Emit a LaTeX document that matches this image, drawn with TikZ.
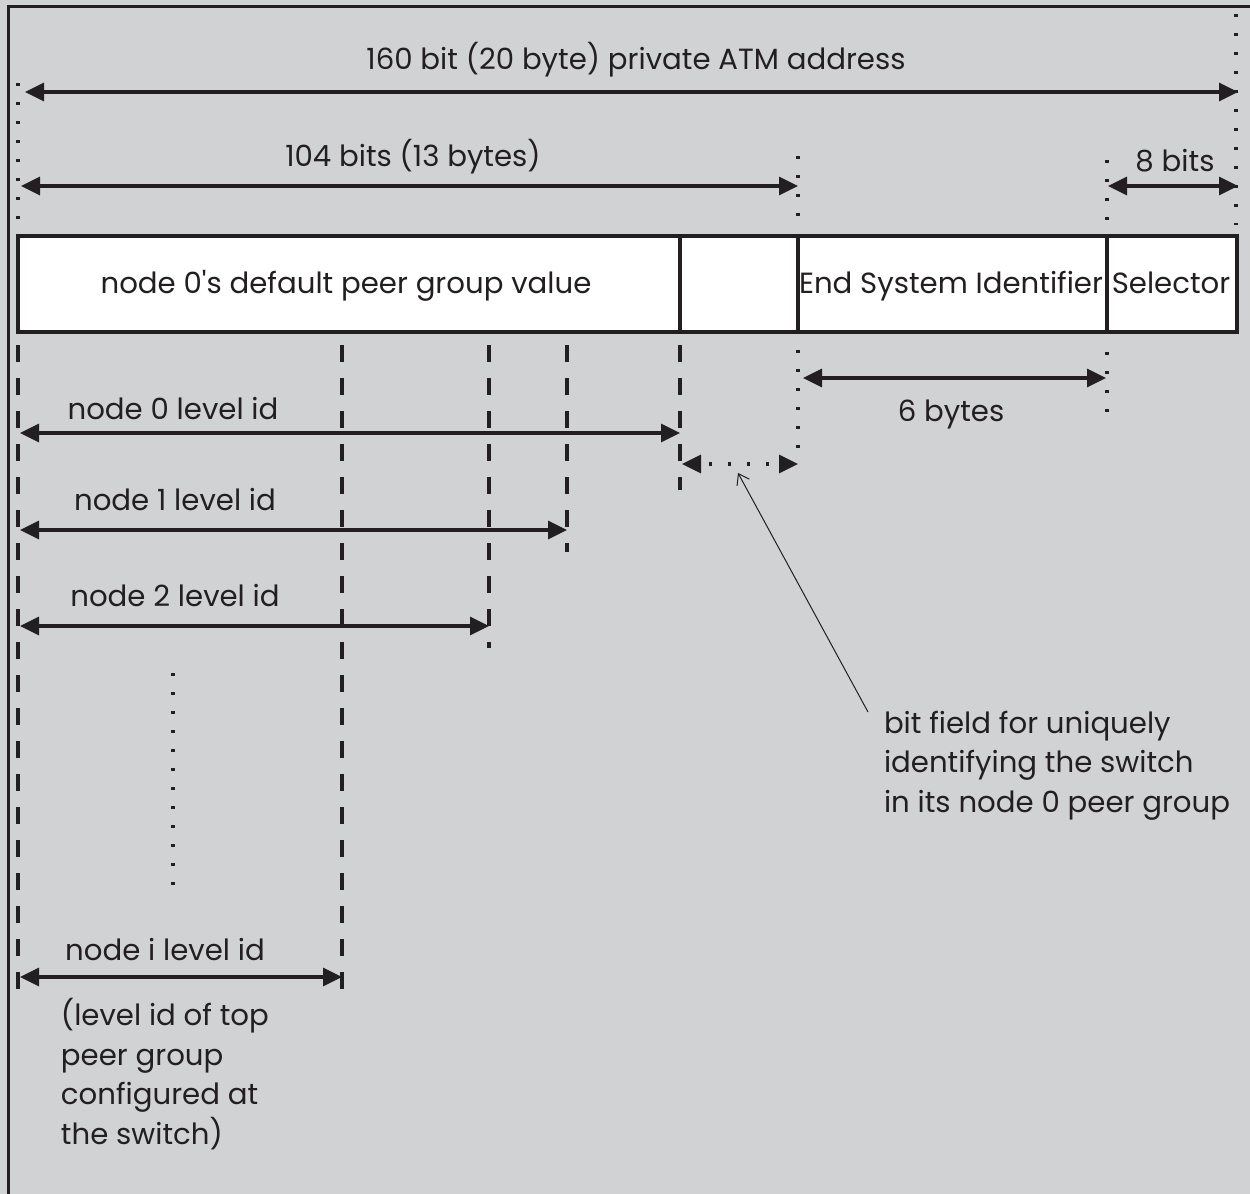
\documentclass[tikz,border=0pt]{standalone}
\usepackage{fontspec}
\setmainfont{Poppins}
\usetikzlibrary{arrows.meta}
\definecolor{ink}{HTML}{231F20}
\definecolor{paper}{HTML}{D1D2D4}

\begin{document}
\begin{tikzpicture}[x=0.5pt,y=-0.5pt,
  every node/.style={inner sep=0pt, outer sep=0pt, text=ink,
    font=\fontsize{14.6pt}{19.7pt}\selectfont},
  lbl/.style={anchor=base},
  lblw/.style={anchor=base west, align=left},
  frameline/.style={draw=ink, line width=1.6pt},
  boxline/.style={draw=ink, line width=1.6pt, fill=white},
  dimarrow/.style={draw=ink, line width=1.6pt,
    {Triangle[length=9.5pt,width=9pt]}-{Triangle[length=9.5pt,width=9pt]}},
  dotline/.style={draw=ink, line width=1.6pt, dash pattern=on 1.5pt off 8pt},
  dashline/.style={draw=ink, line width=1.8pt, dash pattern=on 8.5pt off 8pt},
  pointer/.style={draw=ink, line width=0.5pt, -{Straight Barb[length=5pt,width=7pt]}}
]
\useasboundingbox (0,0) rectangle (1250,1194);
\fill[paper] (0,0) rectangle (1250,1194);
\draw[frameline] (8.5,1194) -- (8.5,6.5) -- (1250,6.5);

% field boundaries of the address box
\coordinate (b0) at (18,236);
\coordinate (b1) at (680,236);
\coordinate (b2) at (798,236);
\coordinate (b3) at (1107,236);
\coordinate (b4) at (1237,332);

% address box and its fields
\draw[boxline] (b0) rectangle (b4);
\draw[frameline] (b1) -- (b1 |- b4);
\draw[frameline] (b2) -- (b2 |- b4);
\draw[frameline] (b3) -- (b3 |- b4);
\node[lbl] (pgval) at (346,293) {node 0\textquotesingle s default peer group value};
\node[lbl] (esi) at (951,293) {End System Identifier};
\node[lbl] (sel) at (1171,293) {Selector};

% dotted guides above the box
\draw[dotline] (18,83) -- (18,225);
\draw[dotline] (1236,14) -- (1236,225);
\draw[dotline] (798,156) -- (798,225);
\draw[dotline] (1107,160) -- (1107,225);

% whole address
\coordinate (a0l) at (25,92);
\coordinate (a0r) at (1238,92);
\draw[dimarrow] (a0l) -- (a0r);
\node[lbl] (t160) at (636,69) {160 bit (20 byte) private ATM address};

% 104 bits
\coordinate (a1l) at (21,186);
\coordinate (a1r) at (798,186);
\draw[dimarrow] (a1l) -- (a1r);
\node[lbl] (t104) at (413,166) {104 bits (13 bytes)};

% 8 bits
\coordinate (a2l) at (1108,186);
\coordinate (a2r) at (1238,186);
\draw[dimarrow] (a2l) -- (a2r);
\node[lbl] (t8) at (1175,171) {8 bits};

% dashed level boundaries below the box
\draw[dashline] (18,345) -- (18,1000);
\draw[dashline] (342,345) -- (342,1000);
\draw[dashline] (489,345) -- (489,648);
\draw[dashline] (567,345) -- (567,552);
\draw[dashline] (680,345) -- (680,490);

% dotted guides below the box
\draw[dotline] (798,350) -- (798,455);
\draw[dotline] (1107,352) -- (1107,412);
\draw[dotline] (173,673) -- (173,890);

% 6 bytes
\coordinate (a3l) at (803,378);
\coordinate (a3r) at (1106,378);
\draw[dimarrow] (a3l) -- (a3r);
\node[lbl] (t6) at (951,421) {6 bytes};

% level ids
\coordinate (l0l) at (20,433);
\coordinate (l0r) at (680,433);
\draw[dimarrow] (l0l) -- (l0r);
\node[lbl] (n0) at (173,419) {node 0 level id};

\coordinate (l1l) at (20,530);
\coordinate (l1r) at (567,530);
\draw[dimarrow] (l1l) -- (l1r);
\node[lbl] (n1) at (175,510) {node 1 level id};

\coordinate (l2l) at (20,626);
\coordinate (l2r) at (489,626);
\draw[dimarrow] (l2l) -- (l2r);
\node[lbl] (n2) at (175,606) {node 2 level id};

\coordinate (lil) at (20,977);
\coordinate (lir) at (342,977);
\draw[dimarrow] (lil) -- (lir);
\node[lbl] (ni) at (165,960) {node i level id};

% multi-line notes, placed by the baseline of their last line
\node[lblw] (topnote) at (61,1144)
  {(level id of top\\peer group\\configured at\\the switch)};

% switch bit field
\coordinate (swl) at (682,464);
\coordinate (swr) at (798,464);
\draw[dimarrow, dash pattern=on 1.5pt off 8pt, dash phase=5pt] (swl) -- (swr);
\coordinate (swmid) at (738,473);

\node[lblw] (swnote) at (884,812)
  {bit field for uniquely\\identifying the switch\\in its node 0 peer group};
\draw[pointer] (868,712) -- (swmid);
\end{tikzpicture}
\end{document}
